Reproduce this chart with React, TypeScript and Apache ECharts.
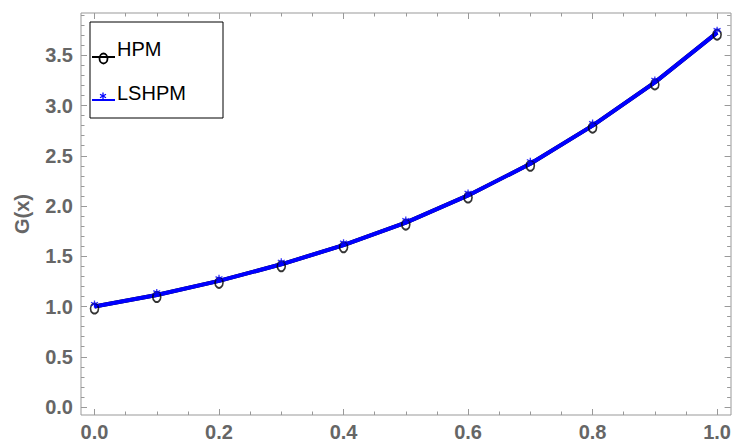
import React, { useEffect, useRef } from "react";
import * as echarts from "echarts";

const xValues = [0, 0.1, 0.2, 0.3, 0.4, 0.5, 0.6, 0.7, 0.8, 0.9, 1.0];
const hpmValues = [1.0, 1.115, 1.255, 1.42, 1.61, 1.835, 2.105, 2.42, 2.8, 3.23, 3.725];
const lshpmValues = [1.0, 1.115, 1.255, 1.42, 1.61, 1.835, 2.105, 2.42, 2.8, 3.23, 3.725];
const seriesNames = ["HPM", "LSHPM"];
const yTickValues = [0, 0.5, 1.0, 1.5, 2.0, 2.5, 3.0, 3.5];
const yAxisTitle = "G(x)";

const FONT = "'Liberation Sans', Arial, Helvetica, sans-serif";
const TICK = "#999999";
const LABEL = "#666666";
const BLUE = "#0000ff";
const ASTERISK = "path://M5 0 L5 10 M0.67 2.5 L9.33 7.5 M0.67 7.5 L9.33 2.5";

export default function App() {
  const ref = useRef<HTMLDivElement>(null);
  useEffect(() => {
    if (!ref.current) return;
    const chart = echarts.init(ref.current, undefined, { renderer: "svg" });
    const hpm = xValues.map((x, i) => [x, hpmValues[i]]);
    const lshpm = xValues.map((x, i) => [x, lshpmValues[i]]);
    const xBase = {
      type: "value" as const,
      min: 0,
      max: 1,
      interval: 0.2,
      splitLine: { show: false },
      axisLine: { show: false, onZero: false },
      axisTick: { show: true, inside: true, length: 6, lineStyle: { color: TICK } },
      minorTick: { show: true, splitNumber: 4, length: 3.5, lineStyle: { color: TICK } },
    };
    const yBase = {
      type: "value" as const,
      min: 0,
      max: 4,
      interval: 0.5,
      splitLine: { show: false },
      axisLine: { show: false, onZero: false },
      axisTick: {
        show: true,
        inside: true,
        length: 6,
        customValues: yTickValues,
        lineStyle: { color: TICK },
      },
      minorTick: { show: true, splitNumber: 5, length: 3.5, lineStyle: { color: TICK } },
    };
    const labelStyle = {
      fontSize: 20,
      fontWeight: "bold" as const,
      color: LABEL,
      fontFamily: FONT,
    };
    chart.setOption({
      animation: false,
      grid: { left: 94.5, right: 16.5, top: 5, bottom: 39, containLabel: false },
      xAxis: [
        {
          ...xBase,
          position: "bottom",
          offset: 8,
          axisLabel: { ...labelStyle, margin: 7, formatter: (v: number) => v.toFixed(1) },
        },
        { ...xBase, position: "top", offset: -8, axisLabel: { show: false } },
      ],
      yAxis: [
        {
          ...yBase,
          position: "left",
          offset: 13.5,
          axisLabel: {
            ...labelStyle,
            margin: 8,
            customValues: yTickValues,
            formatter: (v: number) => v.toFixed(1),
          },
        },
        { ...yBase, position: "right", offset: 13.5, axisLabel: { show: false } },
      ],
      series: [
        {
          name: seriesNames[0],
          type: "line",
          data: hpm,
          showSymbol: false,
          lineStyle: { color: "#000000", width: 4 },
          z: 2,
          silent: true,
        },
        {
          name: seriesNames[1],
          type: "line",
          data: lshpm,
          showSymbol: false,
          lineStyle: { color: BLUE, width: 4 },
          z: 3,
          silent: true,
        },
        {
          name: seriesNames[0],
          type: "scatter",
          data: hpm,
          symbol: "circle",
          symbolSize: [8, 10],
          symbolOffset: [0, 2],
          itemStyle: { color: "rgba(0,0,0,0)", borderColor: "#000000", borderWidth: 1.8 },
          z: 4,
          silent: true,
        },
        {
          name: seriesNames[1],
          type: "scatter",
          data: lshpm,
          symbol: ASTERISK,
          symbolSize: 7,
          symbolOffset: [0, -2.5],
          itemStyle: { color: "rgba(0,0,0,0)", borderColor: BLUE, borderWidth: 1.3 },
          z: 5,
          silent: true,
        },
      ],
      graphic: [
        {
          type: "rect",
          shape: { x: 81, y: 13, width: 650, height: 402 },
          style: { fill: "none", stroke: TICK, lineWidth: 1 },
          z: 1,
          silent: true,
        },
        {
          type: "text",
          x: 22,
          y: 214,
          rotation: Math.PI / 2,
          style: {
            text: yAxisTitle,
            fontSize: 20,
            fontWeight: "bold",
            fill: LABEL,
            fontFamily: FONT,
            align: "center",
            verticalAlign: "middle",
          },
        },
        {
          type: "group",
          z: 10,
          children: [
            {
              type: "rect",
              shape: { x: 90, y: 22, width: 133, height: 96 },
              style: { fill: "#ffffff", stroke: "#000000", lineWidth: 1 },
            },
            {
              type: "line",
              shape: { x1: 92, y1: 57, x2: 115, y2: 57 },
              style: { stroke: "#000000", lineWidth: 2 },
            },
            {
              type: "ellipse",
              shape: { cx: 103.5, cy: 58.5, rx: 4, ry: 5 },
              style: { fill: "none", stroke: "#000000", lineWidth: 1.8 },
            },
            {
              type: "text",
              x: 117,
              y: 49,
              style: {
                text: seriesNames[0],
                fontSize: 20,
                fill: "#000000",
                fontFamily: FONT,
                verticalAlign: "middle",
              },
            },
            {
              type: "line",
              shape: { x1: 92, y1: 100, x2: 115, y2: 100 },
              style: { stroke: BLUE, lineWidth: 2 },
            },
            {
              type: "line",
              shape: { x1: 103, y1: 92.5, x2: 103, y2: 99.5 },
              style: { stroke: BLUE, lineWidth: 1.3 },
            },
            {
              type: "line",
              shape: { x1: 100, y1: 94.2, x2: 106, y2: 97.8 },
              style: { stroke: BLUE, lineWidth: 1.3 },
            },
            {
              type: "line",
              shape: { x1: 100, y1: 97.8, x2: 106, y2: 94.2 },
              style: { stroke: BLUE, lineWidth: 1.3 },
            },
            {
              type: "text",
              x: 117,
              y: 93,
              style: {
                text: seriesNames[1],
                fontSize: 20,
                fill: "#000000",
                fontFamily: FONT,
                verticalAlign: "middle",
              },
            },
          ],
        },
      ],
    });
    return () => chart.dispose();
  }, []);
  return (
    <div
      ref={ref}
      style={{ position: "fixed", left: 0, top: 0, width: 734, height: 446, background: "#ffffff" }}
    />
  );
}
